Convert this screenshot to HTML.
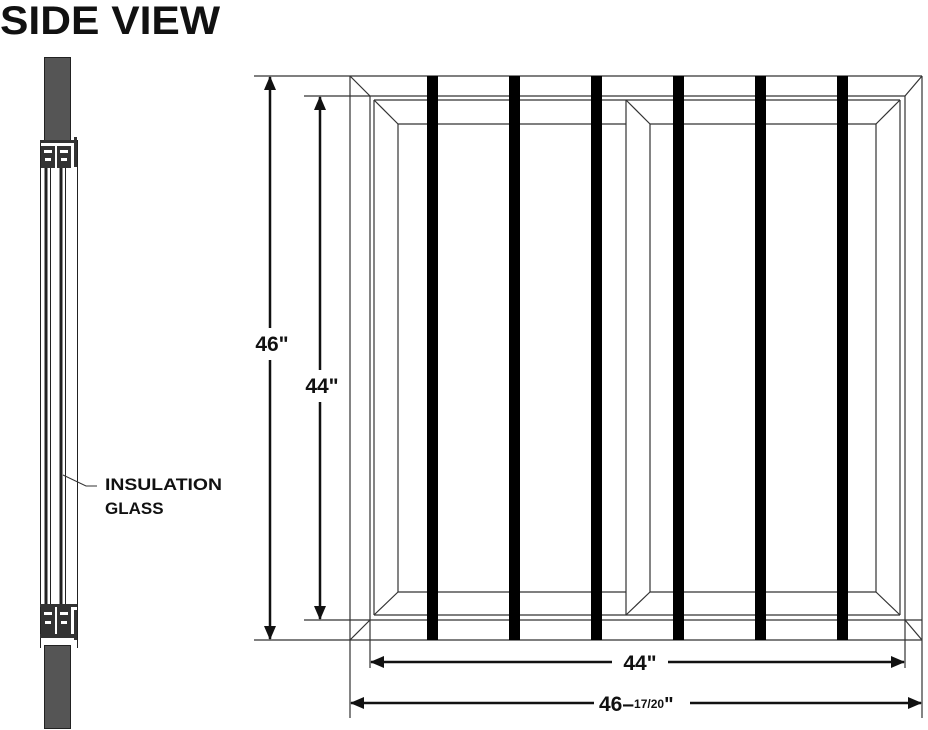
<!DOCTYPE html>
<html><head><meta charset="utf-8"><style>
html,body{margin:0;padding:0;background:#fff;}
svg{display:block;}
text{font-family:"Liberation Sans",sans-serif;font-weight:bold;fill:#111;}
</style></head><body>
<svg width="928" height="730" viewBox="0 0 928 730" xmlns="http://www.w3.org/2000/svg">
<defs>
<marker id="ar" markerWidth="14" markerHeight="12" refX="13" refY="6" orient="auto" markerUnits="userSpaceOnUse">
<path d="M0,0 L14,6 L0,12 Z" fill="#111"/>
</marker>
</defs>
<text x="0" y="34" font-size="40" textLength="220" lengthAdjust="spacingAndGlyphs">SIDE VIEW</text>

<!-- side view -->
<g stroke="#222" fill="none">
<rect x="44.5" y="57.5" width="26" height="84" fill="#555" stroke="#222"/>
<rect x="44.5" y="645.5" width="26" height="83" fill="#555" stroke="#222"/>
<line x1="40.5" y1="140" x2="40.5" y2="648" stroke-width="1"/>
<line x1="77.5" y1="140" x2="77.5" y2="648" stroke-width="1"/>
<line x1="46" y1="165" x2="46" y2="610" stroke-width="3"/>
<line x1="61" y1="165" x2="61" y2="610" stroke-width="3"/>
<line x1="50.5" y1="165" x2="50.5" y2="610" stroke-width="1"/>
<line x1="65.5" y1="165" x2="65.5" y2="610" stroke-width="1"/>
</g>
<g fill="#333">
<rect x="40" y="140" width="37" height="3"/>
<rect x="41" y="146" width="14" height="22"/>
<rect x="57" y="146" width="14" height="22"/>
<rect x="74" y="137" width="3" height="30"/>
<rect x="40" y="604" width="37" height="3"/>
<rect x="41" y="606" width="14" height="28"/>
<rect x="57" y="606" width="14" height="28"/>
<rect x="74" y="610" width="3" height="30"/>
<rect x="40" y="634" width="37" height="4"/>
</g>
<g fill="#fff">
<rect x="44" y="150" width="8" height="3"/><rect x="60" y="150" width="8" height="3"/>
<rect x="45" y="158" width="6" height="3"/><rect x="61" y="158" width="6" height="3"/>
<rect x="44" y="612" width="8" height="3"/><rect x="60" y="612" width="8" height="3"/>
<rect x="45" y="621" width="6" height="3"/><rect x="61" y="621" width="6" height="3"/>
</g>
<polyline points="63,475 86,486 97,486" stroke="#333" fill="none" stroke-width="1"/>
<text x="105" y="490" font-size="17" textLength="117" lengthAdjust="spacingAndGlyphs">INSULATION</text>
<text x="105" y="514" font-size="17">GLASS</text>

<!-- frame -->
<g stroke="#333" stroke-width="1.2" fill="none">
<line x1="254" y1="76" x2="922" y2="76"/>
<line x1="254" y1="640" x2="922" y2="640"/>
<line x1="304" y1="96" x2="905" y2="96"/>
<line x1="304" y1="620" x2="922" y2="620"/>
<line x1="374" y1="100" x2="900" y2="100"/>
<line x1="374" y1="615" x2="900" y2="615"/>
<line x1="398" y1="124" x2="626" y2="124"/>
<line x1="650" y1="124" x2="876" y2="124"/>
<line x1="398" y1="592" x2="626" y2="592"/>
<line x1="650" y1="592" x2="876" y2="592"/>
<line x1="350" y1="76" x2="350" y2="718"/>
<line x1="922" y1="76" x2="922" y2="718"/>
<line x1="370" y1="96" x2="370" y2="668"/>
<line x1="905" y1="96" x2="905" y2="668"/>
<line x1="374" y1="100" x2="374" y2="615"/>
<line x1="900" y1="100" x2="900" y2="615"/>
<line x1="398" y1="124" x2="398" y2="592"/>
<line x1="876" y1="124" x2="876" y2="592"/>
<line x1="626" y1="100" x2="626" y2="615"/>
<line x1="650" y1="124" x2="650" y2="592"/>
<line x1="350" y1="76" x2="370" y2="96"/>
<line x1="922" y1="76" x2="905" y2="96"/>
<line x1="350" y1="640" x2="370" y2="620"/>
<line x1="922" y1="640" x2="905" y2="620"/>
<line x1="374" y1="100" x2="398" y2="124"/>
<line x1="900" y1="100" x2="876" y2="124"/>
<line x1="374" y1="615" x2="398" y2="592"/>
<line x1="900" y1="615" x2="876" y2="592"/>
<line x1="626" y1="100" x2="650" y2="124"/>
<line x1="626" y1="615" x2="650" y2="592"/>
</g>
<g fill="#000">
<rect x="427" y="76" width="11" height="564"/>
<rect x="509" y="76" width="11" height="564"/>
<rect x="591" y="76" width="11" height="564"/>
<rect x="673" y="76" width="11" height="564"/>
<rect x="755" y="76" width="11" height="564"/>
<rect x="837" y="76" width="11" height="564"/>
</g>

<!-- dimensions -->
<g stroke="#111" stroke-width="2.5" fill="none">
<line x1="270" y1="328" x2="270" y2="77" marker-end="url(#ar)"/>
<line x1="270" y1="360" x2="270" y2="639" marker-end="url(#ar)"/>
<line x1="320" y1="370" x2="320" y2="97" marker-end="url(#ar)"/>
<line x1="320" y1="402" x2="320" y2="619" marker-end="url(#ar)"/>
<line x1="612" y1="662" x2="371" y2="662" marker-end="url(#ar)"/>
<line x1="668" y1="662" x2="904" y2="662" marker-end="url(#ar)"/>
<line x1="594" y1="703" x2="351" y2="703" marker-end="url(#ar)"/>
<line x1="690" y1="703" x2="921" y2="703" marker-end="url(#ar)"/>
</g>
<text x="272" y="351" font-size="21" text-anchor="middle">46"</text>
<text x="322" y="393" font-size="21" text-anchor="middle">44"</text>
<text x="640" y="670" font-size="21" text-anchor="middle">44"</text>
<text x="599" y="711" font-size="21">46–<tspan font-size="12" dy="-3">17/20</tspan><tspan font-size="20" dy="3">"</tspan></text>
</svg>
</body></html>
